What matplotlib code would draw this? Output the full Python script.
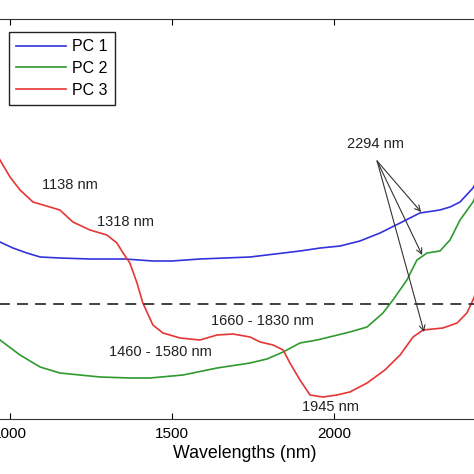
import matplotlib
matplotlib.use("Agg")
import matplotlib.pyplot as plt

plt.rcParams['font.family'] = ['Liberation Sans', 'DejaVu Sans']

# Datos (longitud de onda en nm, loadings)
wl_pc1 = [950, 969, 1009, 1052, 1093, 1154, 1247, 1355, 1441, 1500, 1586, 1741, 1895,
          1958, 2019, 2080, 2142, 2204, 2265, 2327, 2358, 2389, 2429, 2460]
pc1 = [0.066, 0.062, 0.056, 0.051, 0.047, 0.046, 0.045, 0.045, 0.043, 0.043, 0.045, 0.047, 0.053,
       0.056, 0.058, 0.063, 0.071, 0.081, 0.091, 0.094, 0.097, 0.102, 0.116, 0.135]

wl_pc2 = [950, 969, 1031, 1093, 1154, 1278, 1370, 1432, 1534, 1639, 1741, 1793, 1843, 1895,
          1948, 2049, 2102, 2151, 2182, 2225, 2256, 2287, 2327, 2358, 2389, 2429, 2460]
pc2 = [-0.028, -0.036, -0.051, -0.063, -0.069, -0.073, -0.074, -0.074, -0.071, -0.064, -0.059,
       -0.055, -0.048, -0.039, -0.036, -0.028, -0.023, -0.009, 0.004, 0.024, 0.044, 0.051,
       0.053, 0.064, 0.084, 0.102, 0.125]

wl_pc3 = [950, 969, 1000, 1031, 1071, 1102, 1154, 1194, 1247, 1299, 1330, 1349, 1370, 1392,
          1410, 1441, 1472, 1525, 1586, 1639, 1688, 1741, 1772, 1812, 1843, 1864, 1895, 1926,
          1966, 2009, 2049, 2102, 2157, 2204, 2244, 2275, 2336, 2380, 2410, 2429, 2460]
pc3 = [0.155, 0.144, 0.127, 0.114, 0.102, 0.099, 0.094, 0.082, 0.074, 0.069, 0.061, 0.051,
       0.041, 0.021, 0.001, -0.021, -0.029, -0.034, -0.036, -0.031, -0.030, -0.033, -0.038,
       -0.041, -0.046, -0.059, -0.076, -0.091, -0.093, -0.091, -0.088, -0.079, -0.066, -0.051,
       -0.033, -0.026, -0.024, -0.019, -0.009, 0.004, 0.030]

# Etiquetas de bandas: (texto, x, y)
bandas = [("1138 nm", 1185, 0.119), ("1318 nm", 1358, 0.082),
          ("1460 - 1580 nm", 1463, -0.048), ("1660 - 1830 nm", 1778, -0.017),
          ("1945 nm", 1988, -0.103)]
flechas_fin = [(2269, 0.092), (2272, 0.049), (2278, -0.028)]

fig = plt.figure(figsize=(4.74, 4.74), dpi=100)
ax = fig.add_axes([-6.2 / 474, 1 - 419 / 474, 502.2 / 474, 400 / 474])

ax.plot(wl_pc1, pc1, color='#3333dd', lw=1.2, label='PC 1')
ax.plot(wl_pc2, pc2, color='#2f9a2f', lw=1.2, label='PC 2')
ax.plot(wl_pc3, pc3, color='#e63535', lw=1.2, label='PC 3')
ax.axhline(0, color='#333333', lw=1.3, ls=(0, (6, 4)))

for txt, x, y in bandas:
    ax.text(x, y, txt, fontsize=10.5, ha='center', va='center', color='#222222')

ax.text(2127, 0.160, "2294 nm", fontsize=10.5, ha='center', va='center', color='#222222')
for xe, ye in flechas_fin:
    ax.annotate("", xy=(xe, ye), xytext=(2133, 0.143),
                arrowprops=dict(arrowstyle='->', color='#333333', lw=0.8,
                                shrinkA=0, shrinkB=0, mutation_scale=10))

ax.set_xlim(950, 2500)
ax.set_ylim(-0.115, 0.285)
ax.set_xticks([1000, 1500, 2000])
ax.set_yticks([])
ax.tick_params(axis='x', direction='in', top=True, labelsize=11, length=4, pad=6)
ax.set_xlabel("Wavelengths (nm)", fontsize=12.8, labelpad=3)
for s in ax.spines.values():
    s.set_color('#333333')

ax.legend(loc='upper left', bbox_to_anchor=(0.0303, 0.9675), borderaxespad=0,
          fancybox=False, edgecolor='#222222', fontsize=11.5, handlelength=3.1,
          handletextpad=0.4, labelspacing=0.42, borderpad=0.45, framealpha=1)

fig.savefig("out.png", dpi=100)
